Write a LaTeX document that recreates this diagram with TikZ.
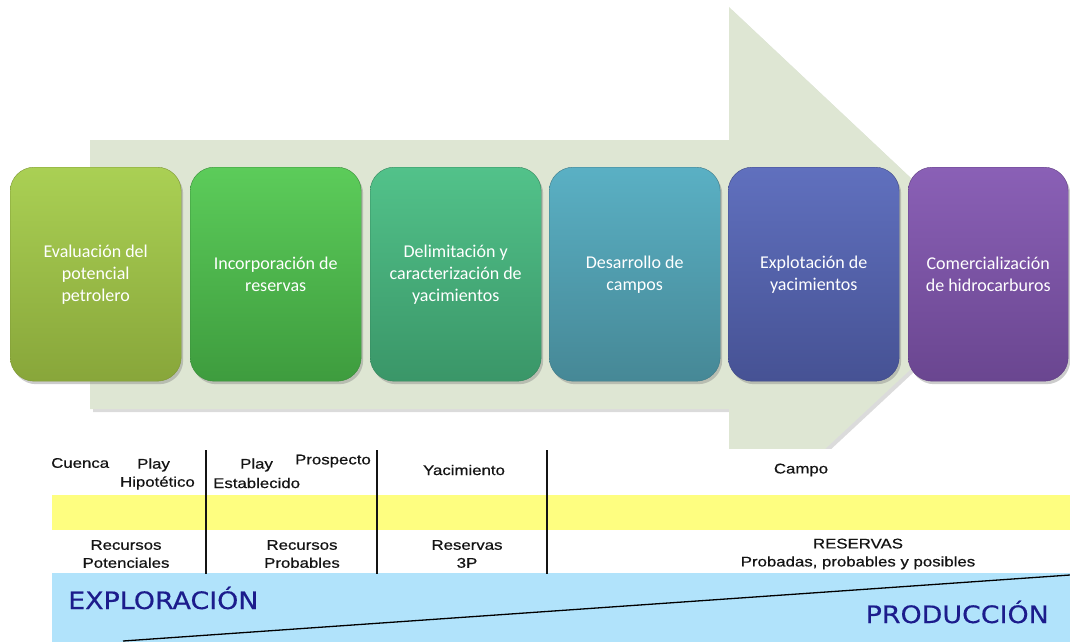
\documentclass[tikz,border=0pt]{standalone}
\usepackage{fontspec}
\setmainfont{Carlito}
\newfontfamily\tabfont[FakeStretch=1.2,FakeBold=0.6]{Liberation Sans}
\newfontfamily\bigfont[FakeStretch=1.12,FakeBold=0.4]{DejaVu Sans}
\usetikzlibrary{shadows}
\definecolor{arrowc}{HTML}{DEE6D3}
\definecolor{bandy}{HTML}{FEFE80}
\definecolor{bandb}{HTML}{B1E3FB}
\definecolor{phasec}{RGB}{28,28,140}
\definecolor{tabtxt}{HTML}{141414}
\begin{document}
\begin{tikzpicture}[x=1pt,y=-1pt,
  stage/.style={rounded corners=24pt, minimum width=171pt, minimum height=214pt,
    anchor=north west, align=center, text=white, inner sep=0pt,
    font=\fontsize{18}{22}\selectfont,
    drop shadow={shadow xshift=2pt,shadow yshift=-3pt,opacity=0.4}},
  tabtext/.style={text=tabtxt, font=\tabfont\fontsize{14}{18}\selectfont, inner sep=0pt, align=center},
  phase/.style={text=phasec, font=\bigfont\fontsize{24}{28}\selectfont, inner sep=0pt},
  rule/.style={draw=tabtxt, line width=1.2pt}]
\useasboundingbox (0,0) rectangle (1070,642);
% big arrow
\fill[black!40, opacity=0.35] (93,143) -- (732,143) -- (732,10) -- (1016,277) -- (828,452) -- (732,452) -- (732,412) -- (93,412) -- cycle;
\fill[arrowc] (90,140) -- (729,140) -- (729,7) -- (1013,274) -- (825,449) -- (729,449) -- (729,409) -- (90,409) -- cycle;
\fill[white] (0,449) rectangle (1070,642);
% stages
\node[stage, top color={rgb,255:red,170;green,208;blue,84}, bottom color={rgb,255:red,136;green,166;blue,58}, draw={rgb,255:red,125;green,150;blue,52}] (s1) at (10,167) {Evaluación del\\potencial\\petrolero};
\node[stage, top color={rgb,255:red,92;green,204;blue,90}, bottom color={rgb,255:red,62;green,156;blue,62}, draw={rgb,255:red,56;green,140;blue,56}] (s2) at (190,167) {Incorporación de\\reservas};
\node[stage, top color={rgb,255:red,82;green,194;blue,138}, bottom color={rgb,255:red,58;green,150;blue,104}, draw={rgb,255:red,52;green,134;blue,92}] (s3) at (370,167) {Delimitación y\\caracterización de\\yacimientos};
\node[stage, top color={rgb,255:red,90;green,176;blue,196}, bottom color={rgb,255:red,70;green,136;blue,150}, draw={rgb,255:red,62;green,122;blue,136}] (s4) at (549,167) {Desarrollo de\\campos};
\node[stage, top color={rgb,255:red,96;green,112;blue,190}, bottom color={rgb,255:red,70;green,82;blue,148}, draw={rgb,255:red,62;green,72;blue,134}] (s5) at (728,167) {Explotación de\\yacimientos};
\node[stage, minimum width=160pt, top color={rgb,255:red,138;green,96;blue,182}, bottom color={rgb,255:red,106;green,70;blue,144}, draw={rgb,255:red,96;green,62;blue,130}] (s6) at (908,167) {Comercialización\\de hidrocarburos};
% table bands
\fill[bandy] (52,495) rectangle (1070,530);
\fill[bandb] (52,573) rectangle (1070,642);
\coordinate (dl) at (123,641);
\coordinate (dr) at (1070,575);
\draw[line width=1.3pt, black] (dl) -- (dr);
% vertical rules
\coordinate (v1t) at (206,450); \coordinate (v1b) at (206,574);
\coordinate (v2t) at (377,450); \coordinate (v2b) at (377,574);
\coordinate (v3t) at (547,450); \coordinate (v3b) at (547,574);
\draw[rule] (v1t) -- (v1b);
\draw[rule] (v2t) -- (v2b);
\draw[rule] (v3t) -- (v3b);
% top row texts
\node[tabtext, anchor=west] (cuenca) at (51,463) {Cuenca};
\node[tabtext, anchor=west] (play1) at (137,465) {Play};
\node[tabtext, anchor=east] (hipo) at (195,483) {Hipotético};
\node[tabtext, anchor=west] (play2) at (240,465) {Play};
\node[tabtext, anchor=east] (prosp) at (371,461) {Prospecto};
\node[tabtext, anchor=west] (estab) at (213,483) {Establecido};
\node[tabtext] (yac) at (464,470) {Yacimiento};
\node[tabtext] (campo) at (801,470) {Campo};
% bottom row texts
\node[tabtext] (rpot) at (126,554) {Recursos\\Potenciales};
\node[tabtext] (rprob) at (302,554) {Recursos\\Probables};
\node[tabtext] (r3p) at (467,554) {Reservas\\3P};
\node[tabtext] (res) at (858,554) {RESERVAS\\Probadas, probables y posibles};
% phases
\node[phase, anchor=base west] (expl) at (68,609) {EXPLORACIÓN};
\node[phase, anchor=base east] (prod) at (1049,623) {PRODUCCIÓN};
\end{tikzpicture}
\end{document}
